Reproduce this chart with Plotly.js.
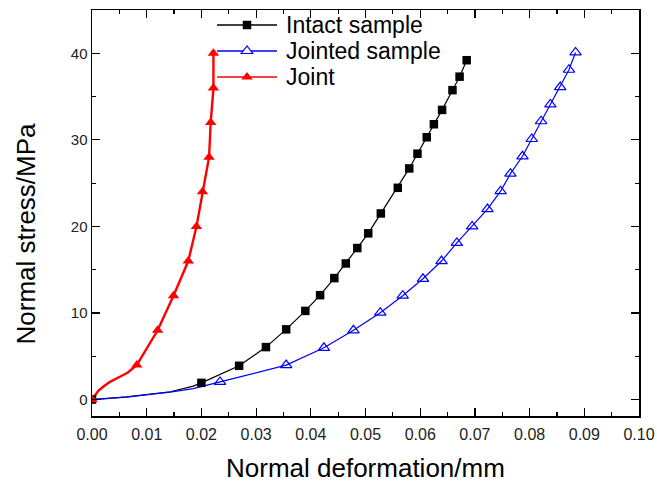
<!DOCTYPE html>
<html>
<head>
<meta charset="utf-8">
<script src="https://cdn.plot.ly/plotly-3.0.1.min.js"></script>
<style>html,body{margin:0;padding:0;background:#fff;}#chart{width:657px;height:482px;}</style>
</head>
<body>
<div id="chart"></div>
<script>
// ---- Data ----
// Intact sample: marked points
var intactMarkX = [0.0, 0.0200, 0.0269, 0.0318, 0.0355, 0.0390, 0.0417, 0.0443, 0.0464, 0.0485, 0.0505, 0.0528, 0.0559, 0.0580, 0.0595, 0.0612, 0.0625, 0.0640, 0.0659, 0.0672, 0.0685];
var intactMarkY = [0.0, 1.93, 3.9, 6.06, 8.11, 10.24, 12.06, 14.03, 15.72, 17.5, 19.2, 21.5, 24.46, 26.7, 28.4, 30.3, 31.8, 33.46, 35.74, 37.3, 39.2];
// Intact sample: extra curve points (no marker)
var intactLineX = [0.0063, 0.0143, 0.0185];
var intactLineY = [0.30, 0.90, 1.55];

// Jointed sample: marked points
var jointedMarkX = [0.0234, 0.0355, 0.0424, 0.0478, 0.0527, 0.0568, 0.0605, 0.0639, 0.0667, 0.0695, 0.0723, 0.0747, 0.0765, 0.0787, 0.0804, 0.0821, 0.0838, 0.0856, 0.0872, 0.0884];
var jointedMarkY = [2.04, 3.98, 5.98, 8.0, 10.04, 12.0, 13.95, 16.0, 18.1, 20.0, 22.0, 24.07, 26.1, 28.1, 30.1, 32.15, 34.1, 36.1, 38.1, 40.1];
var jointedLineX = [0.0, 0.0063, 0.0143, 0.0185];
var jointedLineY = [0.0, 0.28, 0.85, 1.27];

// Joint: marked points
var jointMarkX = [0.0, 0.0082, 0.0120, 0.0149, 0.0176, 0.0191, 0.0202, 0.0214, 0.0217, 0.0222, 0.0222];
var jointMarkY = [0.0, 4.0, 8.0, 12.0, 16.0, 20.0, 24.0, 28.0, 32.0, 36.0, 40.0];
var jointLineX = [0.00116, 0.0021, 0.0033, 0.0050, 0.0065];
var jointLineY = [1.0, 1.5, 2.05, 2.6, 3.1];

// Names / titles
var seriesNames = ['Intact sample', 'Jointed sample', 'Joint'];
var xTitle = 'Normal deformation/mm';
var yTitle = 'Normal stress/MPa';

// ---- Build ----
function merged(ax, ay, bx, by) {
  var pts = [];
  for (var i = 0; i < ax.length; i++) pts.push([ax[i], ay[i]]);
  for (var j = 0; j < bx.length; j++) pts.push([bx[j], by[j]]);
  pts.sort(function (p, q) { return p[1] - q[1]; });
  return { x: pts.map(function (p) { return p[0]; }), y: pts.map(function (p) { return p[1]; }) };
}
var FONT = 'Arial, "Liberation Sans", sans-serif';
var colors = ['#000000', '#0000ff', '#ff0000'];
var symbols = ['square', 'triangle-up-open', 'triangle-up'];
var msizes = [8.5, 10, 10];
var lwidths = [1.2, 1.2, 2.4];

var sets = [
  [intactMarkX, intactMarkY, intactLineX, intactLineY],
  [jointedMarkX, jointedMarkY, jointedLineX, jointedLineY],
  [jointMarkX, jointMarkY, jointLineX, jointLineY]
];
var traces = [];
sets.forEach(function (s, k) {
  var m = merged(s[0], s[1], s[2], s[3]);
  traces.push({ x: m.x, y: m.y, type: 'scatter', mode: 'lines', showlegend: false,
    line: { color: colors[k], width: lwidths[k] }, hoverinfo: 'skip' });
});
sets.forEach(function (s, k) {
  traces.push({ x: s[0], y: s[1], type: 'scatter', mode: 'markers', name: seriesNames[k], showlegend: false,
    marker: { symbol: symbols[k], size: msizes[k], color: colors[k], line: { color: colors[k], width: k === 1 ? 1.2 : 0 } } });
});

// manual legend + titles placed in paper coordinates (plot area is 547 x 406 px)
var L = 92, T = 10, W = 547, H = 406;
function px(xp) { return (xp - L) / W; }
function py(yp) { return (T + H - yp) / H; }
var rowY = [25, 51, 77];
var shapes = [], annotations = [];
rowY.forEach(function (ry, k) {
  shapes.push({ type: 'line', xref: 'paper', yref: 'paper', x0: px(217), x1: px(277), y0: py(ry), y1: py(ry),
    line: { color: colors[k], width: 1.5 }, layer: 'above' });
  if (k === 0) {
    shapes.push({ type: 'rect', xref: 'paper', yref: 'paper', xsizemode: 'pixel', ysizemode: 'pixel',
      xanchor: px(247), yanchor: py(ry), x0: -4.25, x1: 4.25, y0: -4.25, y1: 4.25,
      fillcolor: colors[k], line: { width: 0 }, layer: 'above' });
  } else {
    shapes.push({ type: 'path', xref: 'paper', yref: 'paper', xsizemode: 'pixel', ysizemode: 'pixel',
      xanchor: px(247), yanchor: py(ry), path: 'M-5.77,-2.5 L5.77,-2.5 L0,5 Z',
      fillcolor: k === 1 ? '#ffffff' : colors[k], line: { color: colors[k], width: k === 1 ? 1.2 : 0 }, layer: 'above' });
  }
  annotations.push({ xref: 'paper', yref: 'paper', x: px(285), y: py(ry), xanchor: 'left', yanchor: 'middle',
    text: seriesNames[k], showarrow: false, borderpad: 0, font: { family: FONT, size: 23, color: '#000' } });
});
annotations.push({ xref: 'paper', yref: 'paper', x: px(365.5), y: py(467.5), xanchor: 'center', yanchor: 'middle',
  text: xTitle, showarrow: false, font: { family: FONT, size: 26, color: '#000' } });
annotations.push({ xref: 'paper', yref: 'paper', x: px(25), y: py(233.5), xanchor: 'center', yanchor: 'middle',
  text: yTitle, textangle: -90, showarrow: false, font: { family: FONT, size: 26, color: '#000' } });

var layout = {
  width: 657, height: 482,
  margin: { l: L, r: 657 - L - W, t: T, b: 482 - T - H },
  paper_bgcolor: '#fff', plot_bgcolor: '#fff',
  font: { family: FONT, color: '#000' },
  showlegend: false,
  xaxis: {
    range: [0, 0.1], dtick: 0.01, tick0: 0, tickformat: '.2f',
    ticks: 'inside', ticklen: 8, tickwidth: 1.2, tickcolor: '#000',
    minor: { dtick: 0.005, ticks: 'inside', ticklen: 4, tickwidth: 1.2, tickcolor: '#000' },
    showline: true, linecolor: '#000', linewidth: 1.5, mirror: 'ticks',
    showgrid: false, zeroline: false, ticklabelstandoff: 3,
    tickfont: { family: FONT, size: 16, color: '#222' }
  },
  yaxis: {
    range: [-1.9, 45], dtick: 10, tick0: 0,
    ticks: 'inside', ticklen: 8, tickwidth: 1.2, tickcolor: '#000',
    minor: { dtick: 5, ticks: 'inside', ticklen: 4, tickwidth: 1.2, tickcolor: '#000' },
    showline: true, linecolor: '#000', linewidth: 1.5, mirror: 'ticks',
    showgrid: false, zeroline: false,
    tickfont: { family: FONT, size: 15, color: '#222' }
  },
  shapes: shapes,
  annotations: annotations
};
Plotly.newPlot('chart', traces, layout, { displayModeBar: false, staticPlot: true });
</script>
</body>
</html>
